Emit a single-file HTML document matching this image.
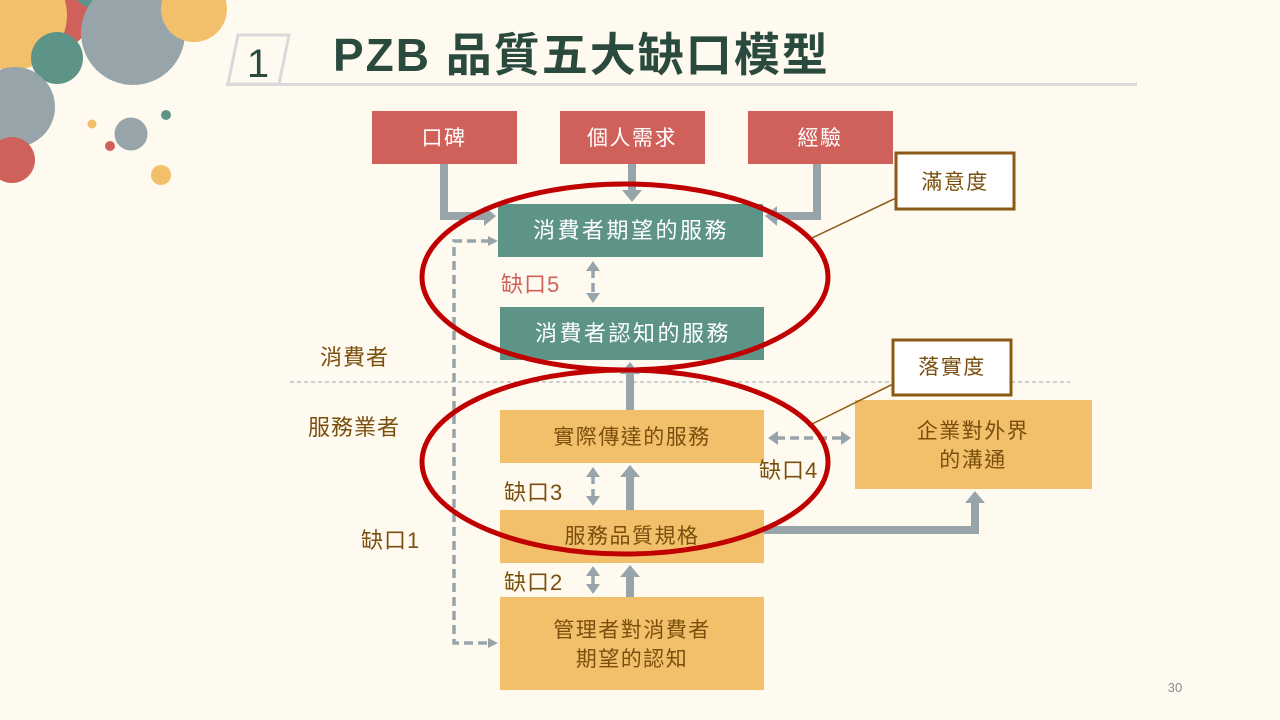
<!DOCTYPE html>
<html><head><meta charset="utf-8"><style>
html,body{margin:0;padding:0;background:#fffaf0;}
svg{display:block;}
text{font-family:"Liberation Sans","Noto Sans CJK TC",sans-serif;}
</style></head><body>
<svg width="1280" height="720" viewBox="0 0 1280 720" xmlns="http://www.w3.org/2000/svg">
<rect width="1280" height="720" fill="#fffaf0"/>
<defs>
<marker id="ah" markerWidth="12" markerHeight="20" refX="2" refY="10" orient="auto" markerUnits="userSpaceOnUse"><path d="M0,0 L12,10 L0,20 Z" fill="#97a5ab"/></marker>
<marker id="ad" markerWidth="10" markerHeight="14" refX="2" refY="7" orient="auto-start-reverse" markerUnits="userSpaceOnUse"><path d="M0,0 L10,7 L0,14 Z" fill="#97a5ab"/></marker>
</defs>
<!-- circles -->
<circle cx="55" cy="15" r="35" fill="#d0605a"/>
<circle cx="12" cy="15" r="55" fill="#f2c06b"/>
<circle cx="97" cy="-18" r="27" fill="#5e9488"/>
<circle cx="133" cy="33" r="52" fill="#97a5ab"/>
<circle cx="194" cy="9" r="33" fill="#f2c06b"/>
<circle cx="57" cy="58" r="26" fill="#5e9488"/>
<circle cx="15" cy="107" r="40" fill="#97a5ab"/>
<circle cx="12" cy="160" r="23" fill="#d0605a"/>
<circle cx="92" cy="124" r="4.5" fill="#f2c06b"/>
<circle cx="131" cy="134" r="16.5" fill="#97a5ab"/>
<circle cx="110" cy="146" r="5" fill="#d0605a"/>
<circle cx="166" cy="115" r="5" fill="#5e9488"/>
<circle cx="161" cy="175" r="10" fill="#f2c06b"/>
<!-- title -->
<polygon points="238,35 289,35 279,84 228,84" fill="none" stroke="#d9d9d9" stroke-width="3"/>
<line x1="226" y1="84.5" x2="1137" y2="84.5" stroke="#d9d9d9" stroke-width="3"/>
<text x="258" y="77" font-size="40" fill="#2b4a3e" text-anchor="middle">1</text>
<text x="333" y="71" font-size="46" font-weight="bold" fill="#2b4a3e" letter-spacing="2">PZB 品質五大缺口模型</text>
<!-- divider -->
<line x1="290" y1="382" x2="1070" y2="382" stroke="#97a5ab" stroke-width="1" stroke-dasharray="4,3"/>
<!-- thick arrows -->
<g stroke="#97a5ab" stroke-width="8" fill="none">
<polyline points="444,164 444,216 486,216" marker-end="url(#ah)"/>
<polyline points="632,164 632,192" marker-end="url(#ah)"/>
<polyline points="817,164 817,216 775,216" marker-end="url(#ah)"/>
<polyline points="630,410 630,372" marker-end="url(#ah)"/>
<polyline points="630,510 630,475" marker-end="url(#ah)"/>
<polyline points="630,597 630,575" marker-end="url(#ah)"/>
<polyline points="764,530 975,530 975,501" marker-end="url(#ah)"/>
</g>
<g stroke="#97a5ab" stroke-width="3.5" fill="none" stroke-dasharray="9,5">
<polyline points="490,241 454,241 454,643 490,643"/>
<line x1="593" y1="269" x2="593" y2="295" marker-start="url(#ad)" marker-end="url(#ad)"/>
<line x1="593" y1="475" x2="593" y2="498" marker-start="url(#ad)" marker-end="url(#ad)"/>
<line x1="593" y1="574" x2="593" y2="586" stroke-dasharray="none" marker-start="url(#ad)" marker-end="url(#ad)"/>
<line x1="776" y1="438" x2="843" y2="438" marker-start="url(#ad)" marker-end="url(#ad)"/>
</g>
<path d="M488,236 L498,241 L488,246Z M488,638 L498,643 L488,648Z" fill="#97a5ab"/>
<!-- boxes -->
<g font-size="21" text-anchor="middle" letter-spacing="1.5">
<rect x="372" y="111" width="145" height="53" fill="#d0605a"/><text x="444" y="145" fill="#fff">口碑</text>
<rect x="560" y="111" width="145" height="53" fill="#d0605a"/><text x="632" y="145" fill="#fff">個人需求</text>
<rect x="748" y="111" width="145" height="53" fill="#d0605a"/><text x="820" y="145" fill="#fff">經驗</text>
<rect x="498" y="204" width="265" height="53" fill="#5e9488"/><text x="631" y="238" fill="#fff" font-size="22" letter-spacing="2.5">消費者期望的服務</text>
<rect x="500" y="307" width="264" height="53" fill="#5e9488"/><text x="633" y="341" fill="#fff" font-size="22" letter-spacing="2.5">消費者認知的服務</text>
<rect x="500" y="410" width="264" height="53" fill="#f2c06b"/><text x="632" y="444" fill="#7a4f0e">實際傳達的服務</text>
<rect x="500" y="510" width="264" height="53" fill="#f2c06b"/><text x="632" y="543" fill="#7a4f0e">服務品質規格</text>
<rect x="500" y="597" width="264" height="93" fill="#f2c06b"/><text x="632" y="637" fill="#7a4f0e">管理者對消費者</text><text x="632" y="666" fill="#7a4f0e">期望的認知</text>
<rect x="855" y="400" width="237" height="89" fill="#f2c06b"/><text x="973" y="438" fill="#7a4f0e">企業對外界</text><text x="973" y="467" fill="#7a4f0e">的溝通</text>
<rect x="896" y="153" width="118" height="56" fill="#fff" stroke="#8a5a14" stroke-width="3"/><text x="955" y="189" fill="#7a4f0e">滿意度</text>
<rect x="893" y="340" width="118" height="55" fill="#fff" stroke="#8a5a14" stroke-width="3"/><text x="952" y="374" fill="#7a4f0e">落實度</text>
</g>
<!-- connectors -->
<line x1="812" y1="238" x2="896" y2="198" stroke="#8a5a14" stroke-width="1.5"/>
<line x1="808" y1="426" x2="893" y2="384" stroke="#8a5a14" stroke-width="1.5"/>
<!-- ellipses -->
<ellipse cx="625" cy="277" rx="203" ry="93" fill="none" stroke="#c00000" stroke-width="5"/>
<ellipse cx="625" cy="462" rx="203" ry="92" fill="none" stroke="#c00000" stroke-width="5"/>
<!-- labels -->
<g font-size="22" letter-spacing="1">
<text x="320" y="365" fill="#7a4f0e">消費者</text>
<text x="308" y="435" fill="#7a4f0e">服務業者</text>
<text x="361" y="548" fill="#7a4f0e">缺口1</text>
<text x="504" y="590" fill="#7a4f0e">缺口2</text>
<text x="504" y="500" fill="#7a4f0e">缺口3</text>
<text x="759" y="478" fill="#7a4f0e">缺口4</text>
<text x="501" y="292" fill="#d0605a">缺口5</text>
</g>
<text x="1175" y="692" font-size="13" fill="#8c8c8c" text-anchor="middle">30</text>
</svg>
</body></html>
